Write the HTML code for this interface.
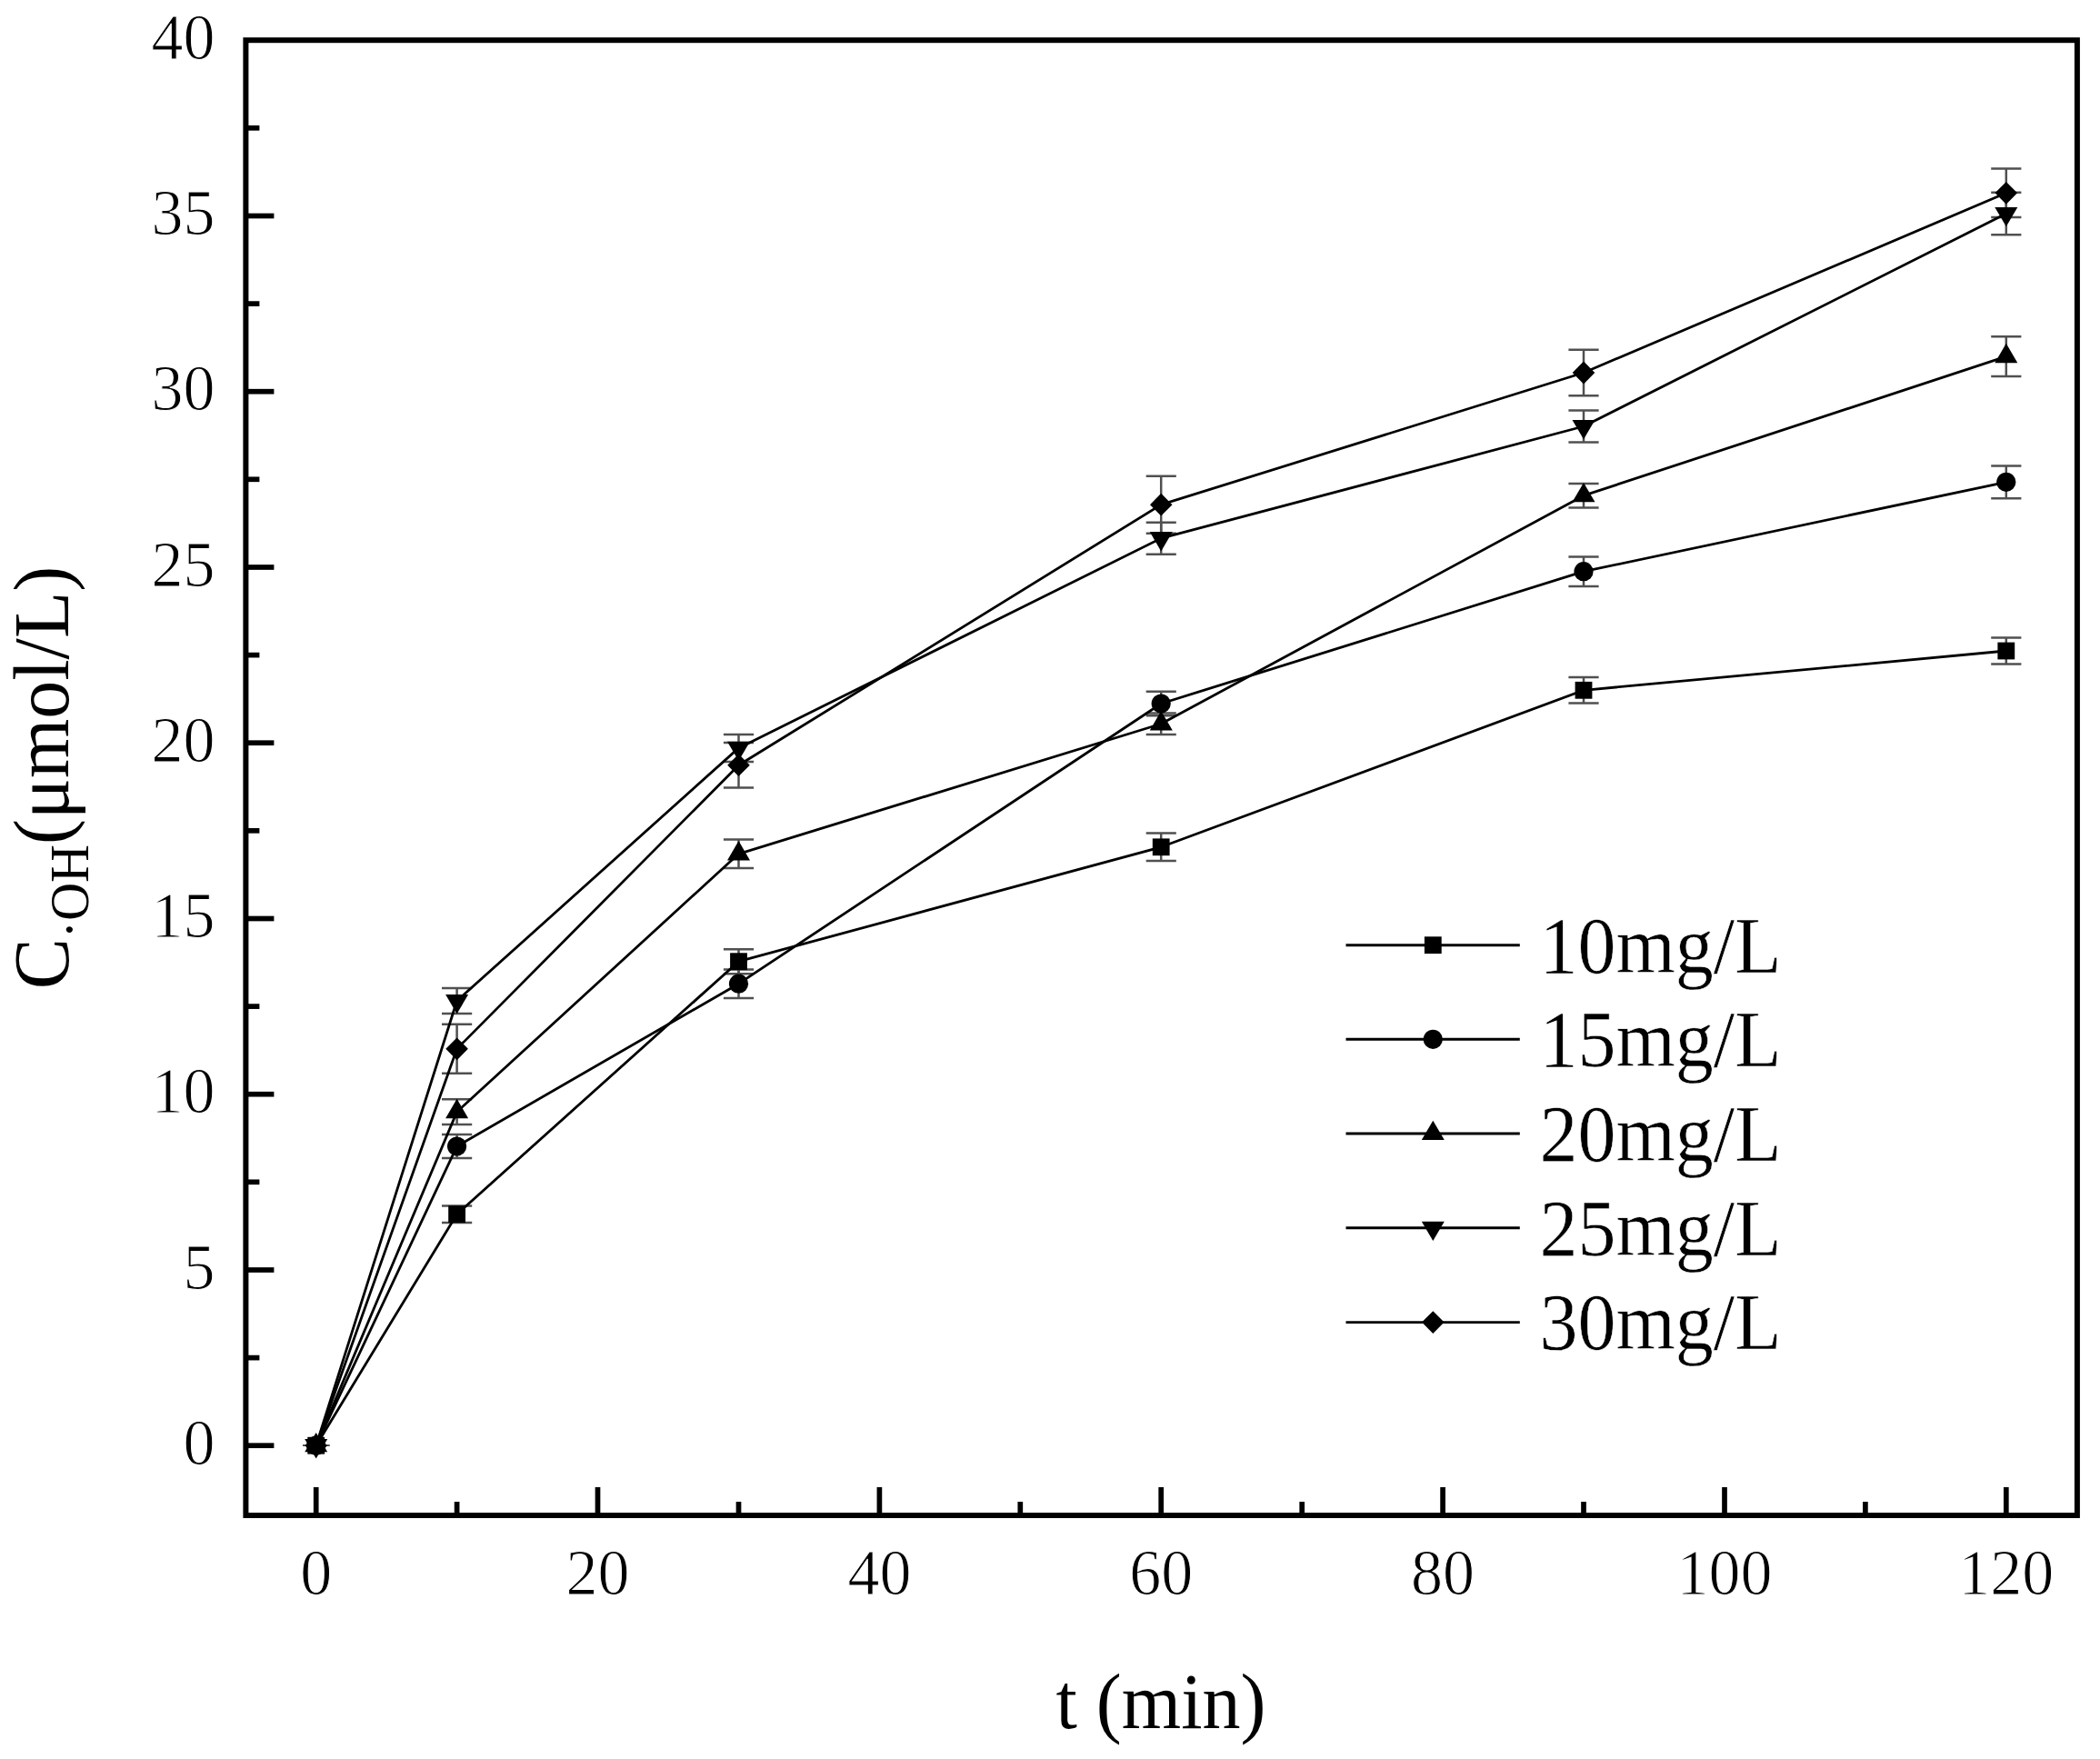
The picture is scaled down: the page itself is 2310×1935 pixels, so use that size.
<!DOCTYPE html>
<html lang="en"><head><meta charset="utf-8"><title>C·OH vs t</title>
<style>html,body{margin:0;padding:0;background:#fff}svg{display:block}text{font-family:"Liberation Serif","Times New Roman",serif;fill:#000}.thin text{stroke:#fff;stroke-width:1px;paint-order:fill stroke}.thin2 text{stroke:#fff;stroke-width:0.5px;paint-order:fill stroke}</style>
</head><body>
<svg width="2310" height="1935" viewBox="0 0 2310 1935">
<rect width="2310" height="1935" fill="#fff"/>
<rect x="270.4" y="44.2" width="2014.5" height="1622.8" fill="none" stroke="#000" stroke-width="6"/>
<g stroke="#000" stroke-width="5.7" fill="none">
<line x1="270.4" y1="1590.2" x2="301.4" y2="1590.2"/>
<line x1="270.4" y1="1397.0" x2="301.4" y2="1397.0"/>
<line x1="270.4" y1="1203.7" x2="301.4" y2="1203.7"/>
<line x1="270.4" y1="1010.5" x2="301.4" y2="1010.5"/>
<line x1="270.4" y1="817.2" x2="301.4" y2="817.2"/>
<line x1="270.4" y1="624.0" x2="301.4" y2="624.0"/>
<line x1="270.4" y1="430.7" x2="301.4" y2="430.7"/>
<line x1="270.4" y1="237.5" x2="301.4" y2="237.5"/>
<line x1="270.4" y1="1493.6" x2="285.4" y2="1493.6"/>
<line x1="270.4" y1="1300.3" x2="285.4" y2="1300.3"/>
<line x1="270.4" y1="1107.1" x2="285.4" y2="1107.1"/>
<line x1="270.4" y1="913.8" x2="285.4" y2="913.8"/>
<line x1="270.4" y1="720.6" x2="285.4" y2="720.6"/>
<line x1="270.4" y1="527.3" x2="285.4" y2="527.3"/>
<line x1="270.4" y1="334.1" x2="285.4" y2="334.1"/>
<line x1="270.4" y1="140.8" x2="285.4" y2="140.8"/>
<line x1="347.7" y1="1667.0" x2="347.7" y2="1636.0"/>
<line x1="657.5" y1="1667.0" x2="657.5" y2="1636.0"/>
<line x1="967.4" y1="1667.0" x2="967.4" y2="1636.0"/>
<line x1="1277.2" y1="1667.0" x2="1277.2" y2="1636.0"/>
<line x1="1587.1" y1="1667.0" x2="1587.1" y2="1636.0"/>
<line x1="1897.0" y1="1667.0" x2="1897.0" y2="1636.0"/>
<line x1="2206.8" y1="1667.0" x2="2206.8" y2="1636.0"/>
<line x1="502.6" y1="1667.0" x2="502.6" y2="1652.0"/>
<line x1="812.5" y1="1667.0" x2="812.5" y2="1652.0"/>
<line x1="1122.3" y1="1667.0" x2="1122.3" y2="1652.0"/>
<line x1="1432.2" y1="1667.0" x2="1432.2" y2="1652.0"/>
<line x1="1742.0" y1="1667.0" x2="1742.0" y2="1652.0"/>
<line x1="2051.9" y1="1667.0" x2="2051.9" y2="1652.0"/>
</g>
<g class="thin">
<text transform="translate(236.5,1610.9) scale(1,1.025)" font-size="70" text-anchor="end">0</text>
<text transform="translate(236.5,1417.7) scale(1,1.025)" font-size="70" text-anchor="end">5</text>
<text transform="translate(236.5,1224.4) scale(1,1.025)" font-size="70" text-anchor="end">10</text>
<text transform="translate(236.5,1031.2) scale(1,1.025)" font-size="70" text-anchor="end">15</text>
<text transform="translate(236.5,837.9) scale(1,1.025)" font-size="70" text-anchor="end">20</text>
<text transform="translate(236.5,644.7) scale(1,1.025)" font-size="70" text-anchor="end">25</text>
<text transform="translate(236.5,451.4) scale(1,1.025)" font-size="70" text-anchor="end">30</text>
<text transform="translate(236.5,258.2) scale(1,1.025)" font-size="70" text-anchor="end">35</text>
<text transform="translate(236.5,64.9) scale(1,1.025)" font-size="70" text-anchor="end">40</text>
<text transform="translate(347.7,1754.3) scale(1,1.025)" font-size="70" text-anchor="middle">0</text>
<text transform="translate(657.5,1754.3) scale(1,1.025)" font-size="70" text-anchor="middle">20</text>
<text transform="translate(967.4,1754.3) scale(1,1.025)" font-size="70" text-anchor="middle">40</text>
<text transform="translate(1277.2,1754.3) scale(1,1.025)" font-size="70" text-anchor="middle">60</text>
<text transform="translate(1587.1,1754.3) scale(1,1.025)" font-size="70" text-anchor="middle">80</text>
<text transform="translate(1897.0,1754.3) scale(1,1.025)" font-size="70" text-anchor="middle">100</text>
<text transform="translate(2206.8,1754.3) scale(1,1.025)" font-size="70" text-anchor="middle">120</text>
</g><g class="ttl">
<text transform="translate(1277.0,1901.0) scale(1,1.035)" font-size="84" text-anchor="middle">t (min)</text>
<text transform="translate(74.6,855.5) rotate(-90) scale(1,1.04)" font-size="84" text-anchor="middle">C<tspan font-size="58" dy="22">·OH</tspan><tspan dy="-22">(μmol/L)</tspan></text>
</g>
<g stroke="#505050" stroke-width="2.5" fill="none">
<path stroke-width="1.6" d="M333.1 1590.2H362.3"/>
<path d="M502.6 1326.4V1345.0M486.0 1326.4H519.2M486.0 1345.0H519.2"/>
<path d="M812.5 1044.2V1071.2M795.9 1044.2H829.1M795.9 1071.2H829.1"/>
<path d="M1277.2 916.6V947.0M1260.7 916.6H1293.8M1260.7 947.0H1293.8"/>
<path d="M1742.0 745.0V773.6M1725.4 745.0H1758.6M1725.4 773.6H1758.6"/>
<path d="M2206.8 701.5V730.5M2190.2 701.5H2223.4M2190.2 730.5H2223.4"/>
<path stroke-width="1.6" d="M333.1 1590.2H362.3"/>
<path d="M502.6 1247.9V1274.1M486.0 1247.9H519.2M486.0 1274.1H519.2"/>
<path d="M812.5 1066.4V1098.0M795.9 1066.4H829.1M795.9 1098.0H829.1"/>
<path d="M1277.2 760.7V787.3M1260.7 760.7H1293.8M1260.7 787.3H1293.8"/>
<path d="M1742.0 612.5V644.9M1725.4 612.5H1758.6M1725.4 644.9H1758.6"/>
<path d="M2206.8 512.4V548.2M2190.2 512.4H2223.4M2190.2 548.2H2223.4"/>
<path stroke-width="1.6" d="M333.1 1590.2H362.3"/>
<path d="M502.6 1209.3V1236.9M486.0 1209.3H519.2M486.0 1236.9H519.2"/>
<path d="M812.5 923.6V955.0M795.9 923.6H829.1M795.9 955.0H829.1"/>
<path d="M1277.2 784.6V808.0M1260.7 784.6H1293.8M1260.7 808.0H1293.8"/>
<path d="M1742.0 531.9V558.5M1725.4 531.9H1758.6M1725.4 558.5H1758.6"/>
<path d="M2206.8 370.2V414.0M2190.2 370.2H2223.4M2190.2 414.0H2223.4"/>
<path stroke-width="1.6" d="M333.1 1590.2H362.3"/>
<path d="M502.6 1087.0V1115.0M486.0 1087.0H519.2M486.0 1115.0H519.2"/>
<path d="M812.5 807.9V837.9M795.9 807.9H829.1M795.9 837.9H829.1"/>
<path d="M1277.2 574.8V609.8M1260.7 574.8H1293.8M1260.7 609.8H1293.8"/>
<path d="M1742.0 451.6V486.4M1725.4 451.6H1758.6M1725.4 486.4H1758.6"/>
<path d="M2206.8 211.8V258.2M2190.2 211.8H2223.4M2190.2 258.2H2223.4"/>
<path stroke-width="1.6" d="M333.1 1590.2H362.3"/>
<path d="M502.6 1126.8V1180.8M486.0 1126.8H519.2M486.0 1180.8H519.2"/>
<path d="M812.5 817.0V866.5M795.9 817.0H829.1M795.9 866.5H829.1"/>
<path d="M1277.2 523.7V586.7M1260.7 523.7H1293.8M1260.7 586.7H1293.8"/>
<path d="M1742.0 384.8V435.2M1725.4 384.8H1758.6M1725.4 435.2H1758.6"/>
<path d="M2206.8 185.5V239.1M2190.2 185.5H2223.4M2190.2 239.1H2223.4"/>
</g>
<g stroke="#000" stroke-width="2.8" fill="none" stroke-linejoin="round">
<polyline points="347.7,1590.2 502.6,1335.7 812.5,1057.7 1277.2,931.8 1742.0,759.3 2206.8,716.0"/>
<polyline points="347.7,1590.2 502.6,1261.0 812.5,1082.2 1277.2,774.0 1742.0,628.7 2206.8,530.3"/>
<polyline points="347.7,1590.2 502.6,1223.1 812.5,939.3 1277.2,796.3 1742.0,545.2 2206.8,392.1"/>
<polyline points="347.7,1590.2 502.6,1101.0 812.5,822.9 1277.2,592.2 1742.0,469.0 2206.8,235.0"/>
<polyline points="347.7,1590.2 502.6,1153.8 812.5,841.8 1277.2,555.2 1742.0,410.0 2206.8,212.3"/>
</g>
<g fill="#000">
<rect x="338.3" y="1580.8" width="18.8" height="18.8"/>
<rect x="493.2" y="1326.3" width="18.8" height="18.8"/>
<rect x="803.1" y="1048.3" width="18.8" height="18.8"/>
<rect x="1267.8" y="922.4" width="18.8" height="18.8"/>
<rect x="1732.6" y="749.9" width="18.8" height="18.8"/>
<rect x="2197.4" y="706.6" width="18.8" height="18.8"/>
<circle cx="347.7" cy="1590.2" r="10.6"/>
<circle cx="502.6" cy="1261.0" r="10.6"/>
<circle cx="812.5" cy="1082.2" r="10.6"/>
<circle cx="1277.2" cy="774.0" r="10.6"/>
<circle cx="1742.0" cy="628.7" r="10.6"/>
<circle cx="2206.8" cy="530.3" r="10.6"/>
<polygon points="347.7,1575.9 360.2,1597.3 335.2,1597.3"/>
<polygon points="502.6,1208.8 515.1,1230.2 490.1,1230.2"/>
<polygon points="812.5,925.0 825.0,946.4 800.0,946.4"/>
<polygon points="1277.2,782.0 1289.8,803.4 1264.8,803.4"/>
<polygon points="1742.0,530.9 1754.5,552.3 1729.5,552.3"/>
<polygon points="2206.8,377.8 2219.3,399.2 2194.3,399.2"/>
<polygon points="347.7,1604.5 360.2,1583.1 335.2,1583.1"/>
<polygon points="502.6,1115.3 515.1,1093.9 490.1,1093.9"/>
<polygon points="812.5,837.1 825.0,815.7 800.0,815.7"/>
<polygon points="1277.2,606.5 1289.8,585.1 1264.8,585.1"/>
<polygon points="1742.0,483.3 1754.5,461.9 1729.5,461.9"/>
<polygon points="2206.8,249.3 2219.3,227.9 2194.3,227.9"/>
<polygon points="347.7,1577.8 360.0,1590.2 347.7,1602.6 335.4,1590.2"/>
<polygon points="502.6,1141.4 514.9,1153.8 502.6,1166.2 490.3,1153.8"/>
<polygon points="812.5,829.4 824.8,841.8 812.5,854.1 800.2,841.8"/>
<polygon points="1277.2,542.8 1289.5,555.2 1277.2,567.6 1265.0,555.2"/>
<polygon points="1742.0,397.6 1754.3,410.0 1742.0,422.4 1729.7,410.0"/>
<polygon points="2206.8,199.9 2219.1,212.3 2206.8,224.7 2194.5,212.3"/>
</g>
<g stroke="#000" stroke-width="2.9">
<line x1="1480.5" y1="1039.7" x2="1671.8" y2="1039.7"/>
<line x1="1480.5" y1="1143.3" x2="1671.8" y2="1143.3"/>
<line x1="1480.5" y1="1247.0" x2="1671.8" y2="1247.0"/>
<line x1="1480.5" y1="1350.8" x2="1671.8" y2="1350.8"/>
<line x1="1480.5" y1="1454.6" x2="1671.8" y2="1454.6"/>
</g><g fill="#000">
<rect x="1566.9" y="1030.3" width="18.8" height="18.8"/>
<circle cx="1576.3" cy="1143.3" r="10.6"/>
<polygon points="1576.3,1232.7 1588.8,1254.1 1563.8,1254.1"/>
<polygon points="1576.3,1365.1 1588.8,1343.7 1563.8,1343.7"/>
<polygon points="1576.3,1442.2 1588.6,1454.6 1576.3,1467.0 1564.0,1454.6"/>
</g><g class="thin2">
<text transform="translate(1693.5,1069.5) scale(1,1.06)" font-size="84" text-anchor="start">10mg/L</text>
<text transform="translate(1693.5,1173.1) scale(1,1.06)" font-size="84" text-anchor="start">15mg/L</text>
<text transform="translate(1693.5,1276.8) scale(1,1.06)" font-size="84" text-anchor="start">20mg/L</text>
<text transform="translate(1693.5,1380.6) scale(1,1.06)" font-size="84" text-anchor="start">25mg/L</text>
<text transform="translate(1693.5,1484.4) scale(1,1.06)" font-size="84" text-anchor="start">30mg/L</text>
</g>
</svg></body></html>
